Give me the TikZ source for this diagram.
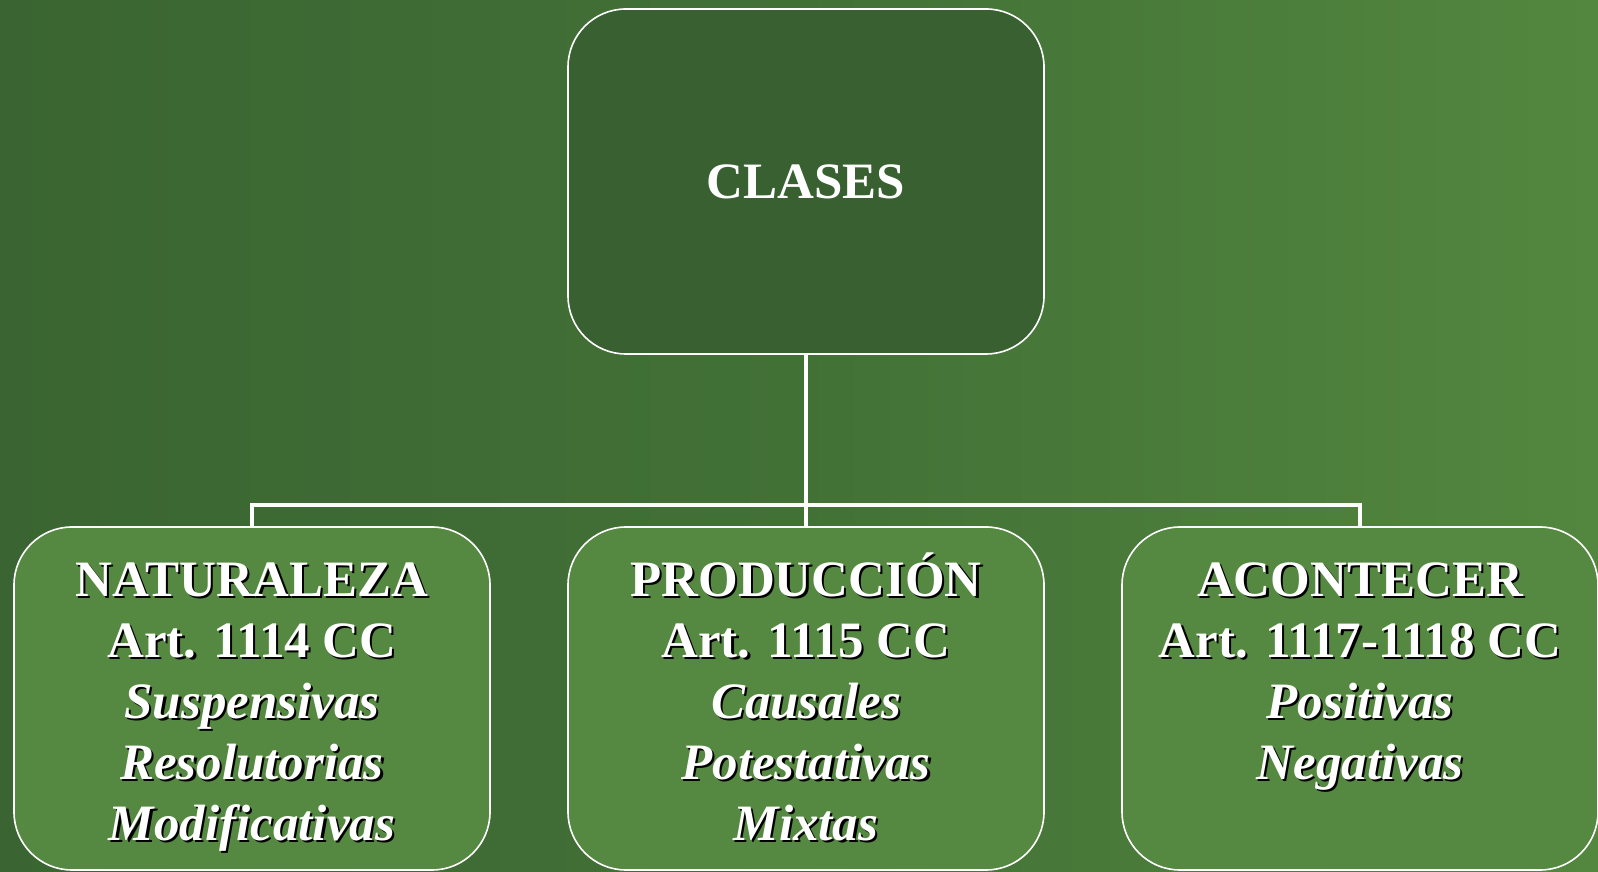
\documentclass[tikz,border=0pt]{standalone}
\usepackage{fontspec}
\setmainfont{Liberation Serif}
\usetikzlibrary{positioning}

\definecolor{fondoL}{RGB}{58,101,50}
\definecolor{fondoM}{RGB}{66,113,54}
\definecolor{fondoR}{RGB}{83,135,63}
\definecolor{cajaOscura}{RGB}{56,96,49}
\definecolor{cajaClara}{RGB}{85,136,64}

\tikzset{
  caja/.style={draw=white, line width=1.6pt, rounded corners=58pt,
    minimum width=476pt, minimum height=343pt, inner sep=0pt},
  conector/.style={draw=white, line width=4pt},
  texto/.style={align=center, anchor=north, inner sep=0pt,
    font=\fontsize{51}{61}\selectfont\bfseries}
}

% texto con sombra: nombre, caja, contenido
\newcommand{\textosombra}[3]{%
  \node[texto, text=black] (#1s) at ([xshift=2.2pt, yshift=-27.2pt]#2.north) {#3};
  \node[texto, text=white] (#1) at ([yshift=-25pt]#2.north) {#3};
}

\begin{document}
\begin{tikzpicture}[x=1pt, y=1pt]
        % fondo
        \useasboundingbox (0,0) rectangle (1598,872);
        \shade[left color=fondoL, right color=fondoR, middle color=fondoM] (0,0) rectangle (1598,872);

        % Cajas
        \node[caja, fill=cajaOscura, minimum height=345pt, text=white,
              font=\fontsize{51}{61}\selectfont\bfseries] (clases) at (806,690.5) {CLASES};
        \node[caja, fill=cajaClara] (nat) at (252,173.5) {};
        \node[caja, fill=cajaClara] (prod) at (806,173.5) {};
        \node[caja, fill=cajaClara] (acon) at (1360,173.5) {};

        % Conexiones
        \coordinate (bus) at (806,367);
        \draw[conector] (clases.south) -- (bus);
        \draw[conector] (nat.north) |- (bus) -| (acon.north);
        \draw[conector] (bus) -- (prod.north);

        % Textos
        \textosombra{natT}{nat}{\rule{0pt}{45pt}NATURALEZA\\Art. 1114 CC\\
          \itshape Suspensivas\\\itshape Resolutorias\\\itshape Modificativas}
        \textosombra{prodT}{prod}{\rule{0pt}{45pt}PRODUCCIÓN\\Art. 1115 CC\\
          \itshape Causales\\\itshape Potestativas\\\itshape Mixtas}
        \textosombra{aconT}{acon}{\rule{0pt}{45pt}ACONTECER\\Art. 1117-1118 CC\\
          \itshape Positivas\\\itshape Negativas}
\end{tikzpicture}
\end{document}
